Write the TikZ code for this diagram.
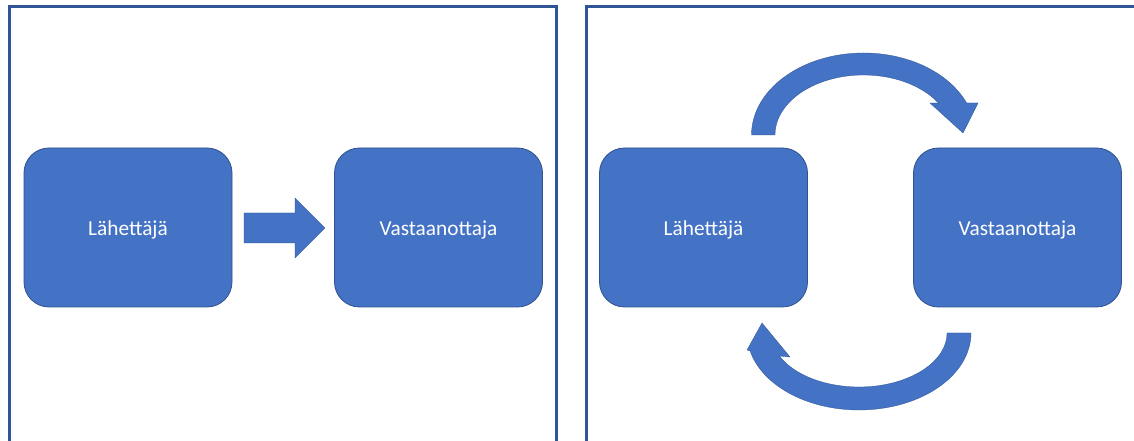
\documentclass[tikz,border=0pt]{standalone}
\usepackage{fontspec}
\setmainfont{Carlito}
\usetikzlibrary{calc}
\definecolor{boxblue}{HTML}{4472C4}
\definecolor{edgeblue}{HTML}{2F528F}
\definecolor{panelblue}{HTML}{2F5597}
\begin{document}
\begin{tikzpicture}[x=1pt,y=1pt,
 box/.style={draw=edgeblue, line width=0.8pt, fill=boxblue, rounded corners=25pt, minimum width=208pt, minimum height=159pt, text=white, font=\fontsize{21.3}{25}\selectfont, inner sep=0pt, text height=20pt, text depth=3pt},
 blockshape/.style={fill=boxblue, draw=edgeblue, line width=0.3pt},
 panel/.style={draw=panelblue, line width=3pt}]
\useasboundingbox (0,0) rectangle (1134,441);
\fill[white] (0,0) rectangle (1134,441);
\draw[panel] (9.5,-10) |- (556.5,434.5) -- (556.5,-10);
\draw[panel] (586.5,-10) |- (1135,434.5) -- (1135,-10);
\node[box] (s1) at (128,213.5) {Lähettäjä};
\node[box] (r1) at (438.5,213.5) {Vastaanottaja};
\node[box] (s2) at (703.5,213.5) {Lähettäjä};
\node[box] (r2) at (1017.5,213.5) {Vastaanottaja};
\fill[blockshape] (244,198) -- (295,198) -- (295,183) -- (325,213) -- (295,243) -- (295,228) -- (244,228) -- cycle;
\coordinate (tc) at (863.5,306);
\fill[blockshape] ($(tc)+(180:112pt and 82pt)$) arc[start angle=180, end angle=23, x radius=112pt, y radius=82pt] -- (978,338) -- (963,308) -- (930,338) -- ($(tc)+(32:88.5pt and 60pt)$) arc[start angle=32, end angle=180, x radius=88.5pt, y radius=60pt] -- cycle;
\coordinate (bc) at (859,108);
\fill[blockshape] ($(bc)+(0:112pt and 77pt)$) arc[start angle=0, end angle=-166.5, x radius=112pt, y radius=77pt] -- (747,91) -- (762,118) -- (790,84) -- ($(bc)+(-154.8:88pt and 54pt)$) arc[start angle=-154.8, end angle=0, x radius=88pt, y radius=54pt] -- cycle;
\end{tikzpicture}
\end{document}
